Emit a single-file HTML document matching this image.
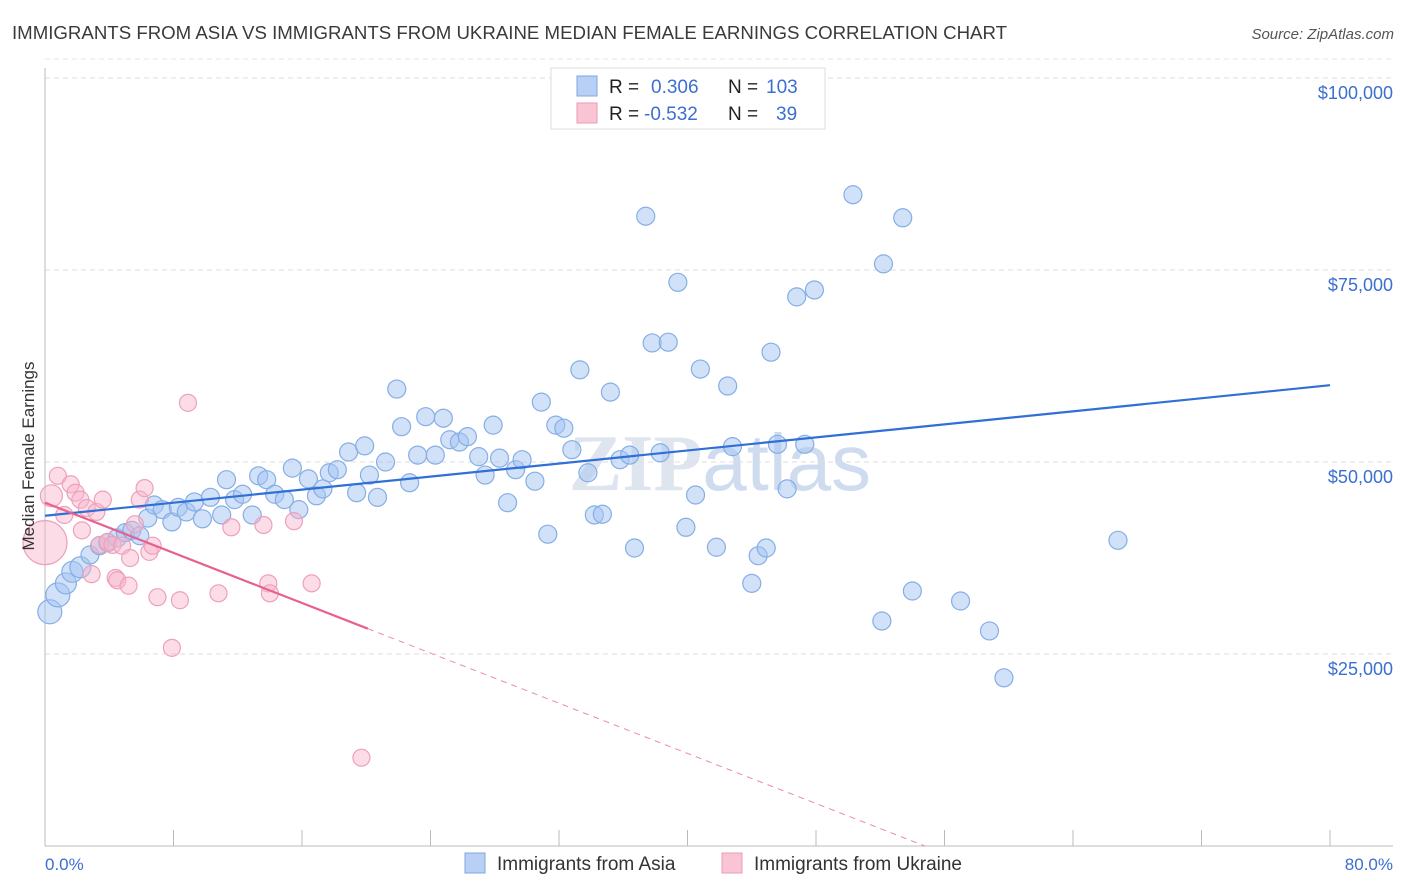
<!DOCTYPE html>
<html><head><meta charset="utf-8"><style>
body{margin:0;background:#fff;font-family:"Liberation Sans",sans-serif;}
svg{display:block}
</style></head><body>
<svg id="chart" width="1406" height="892" xmlns="http://www.w3.org/2000/svg">
<text x="12" y="39" font-size="18" fill="#3a3a3a" textLength="995" lengthAdjust="spacingAndGlyphs">IMMIGRANTS FROM ASIA VS IMMIGRANTS FROM UKRAINE MEDIAN FEMALE EARNINGS CORRELATION CHART</text>
<text x="1394" y="39" font-size="15" fill="#555" font-style="italic" text-anchor="end">Source: ZipAtlas.com</text>
<text x="720" y="490" font-size="80" fill="#dfe5ee" text-anchor="middle" font-weight="bold" font-family="Liberation Serif,serif">ZIP<tspan fill="#cfdcf0" font-family="Liberation Sans,sans-serif" font-weight="normal">atlas</tspan></text>
<g id="grid"></g>
<g id="axes"></g>
<g id="pts"></g>
<g id="trends"></g>
<text transform="translate(34,456) rotate(-90)" font-size="17" fill="#333" text-anchor="middle">Median Female Earnings</text>
<text x="45" y="870" font-size="17" fill="#3b6fd0">0.0%</text>
<text x="1393" y="870" font-size="17" fill="#3b6fd0" text-anchor="end">80.0%</text>
<g>
<rect x="551" y="68" width="274" height="61" fill="#fff" stroke="#ddd"/>
<rect x="577" y="76" width="20" height="20" fill="#b8d0f5" stroke="#7fa5e0"/>
<rect x="577" y="103" width="20" height="20" fill="#f9c5d5" stroke="#eb9ab4"/>
<text x="609" y="93" font-size="19" fill="#222">R = <tspan x="651" fill="#3b6fd0">0.306</tspan><tspan x="728">N = </tspan><tspan x="766" fill="#3b6fd0">103</tspan></text>
<text x="609" y="120" font-size="19" fill="#222">R = <tspan x="644" fill="#3b6fd0">-0.532</tspan><tspan x="728">N = </tspan><tspan x="776" fill="#3b6fd0">39</tspan></text>
</g>
<g>
<rect x="465" y="853" width="20" height="20" fill="#b8d0f5" stroke="#7fa5e0"/>
<text x="497" y="870" font-size="19" fill="#333">Immigrants from Asia</text>
<rect x="722" y="853" width="20" height="20" fill="#f9c5d5" stroke="#eb9ab4"/>
<text x="754" y="870" font-size="19" fill="#333">Immigrants from Ukraine</text>
</g>
</svg>
<script>
const yTicks=[25000,50000,75000,100000];
const yTickLabels=["$25,000","$50,000","$75,000","$100,000"];
const xTicks=[0,8,16,24,32,40,48,56,64,72,80];
const asiaX=[0.3,0.8,1.3,1.7,2.2,2.8,3.4,3.9,4.5,5.0,5.4,5.9,6.4,6.8,7.3,7.9,8.3,8.8,9.3,9.8,10.3,11.0,11.3,11.8,12.3,12.9,13.3,13.8,14.3,14.9,15.4,15.8,16.4,16.9,17.3,17.7,18.2,18.9,19.4,19.9,20.2,20.7,21.2,21.9,22.2,22.7,23.2,23.7,24.3,24.8,25.2,25.8,26.3,27.0,27.4,27.9,28.3,28.8,29.3,29.7,30.5,30.9,31.3,31.8,32.3,32.8,33.3,33.8,34.2,34.7,35.2,35.8,36.4,36.7,37.4,37.8,38.3,38.8,39.4,39.9,40.5,40.8,41.8,42.5,42.8,44.0,44.4,44.9,45.2,45.6,46.2,46.8,47.3,47.9,50.3,52.1,52.2,53.4,54.0,57.0,58.8,59.7,66.8];
const asiaY=[30.5,32.7,34.2,35.7,36.3,37.9,39.1,39.5,40.1,40.8,41.1,40.4,42.7,44.4,43.8,42.2,44.1,43.5,44.8,42.6,45.4,43.1,47.7,45.1,45.8,43.1,48.2,47.7,45.8,45.1,49.2,43.8,47.8,45.6,46.5,48.6,49.0,51.3,46.0,52.1,48.3,45.4,50.0,59.5,54.6,47.3,50.9,55.9,50.9,55.7,52.9,52.6,53.3,50.7,48.3,54.8,50.5,44.7,49.0,50.3,47.5,57.8,40.6,54.8,54.4,51.6,62.0,48.6,43.1,43.2,59.1,50.3,50.9,38.8,82.0,65.5,51.2,65.6,73.4,41.5,45.7,62.1,38.9,59.9,52.0,34.2,37.8,38.8,64.3,52.3,46.5,71.5,52.3,72.4,84.8,29.3,75.8,81.8,33.2,31.9,28.0,21.9,39.8];
const ukrX=[0.0,0.4,0.8,1.2,1.6,1.9,2.2,2.3,2.6,2.9,3.2,3.4,3.6,3.9,4.2,4.4,4.5,4.8,5.2,5.3,5.6,5.9,6.2,6.5,6.7,7.0,7.9,8.4,8.9,10.8,11.6,13.6,13.9,14.0,15.5,16.6,19.7];
const ukrY=[39.5,45.6,48.2,43.1,47.1,46.0,45.1,41.1,44.0,35.4,43.5,39.2,45.1,39.6,39.2,34.9,34.6,39.1,33.9,37.5,41.9,45.1,46.6,38.3,39.1,32.4,25.8,32.0,57.7,32.9,41.5,41.8,34.2,32.9,42.3,34.2,11.5];
const asiaTrend=[43.0,60.0];
const ukrTrend=[44.7,-0.816];
const X0=45,X1=1330,Y0=846,YPX=7.68;
const sx=v=>X0+(X1-X0)*v/80;
const sy=v=>Y0-v*YPX;
const NS="http://www.w3.org/2000/svg";
function mk(t,a,p){const e=document.createElementNS(NS,t);for(const k in a)e.setAttribute(k,a[k]);p.appendChild(e);return e;}
const grid=document.getElementById('grid'),axes=document.getElementById('axes'),pts=document.getElementById('pts'),tr=document.getElementById('trends');
yTicks.forEach((v,i)=>{
 const l=mk('line',{x1:X0,x2:1393,y1:sy(v/1000),y2:sy(v/1000),stroke:'#ddd','stroke-dasharray':'5,4'},grid);
 
 
 const t=mk('text',{x:1393,y:sy(v/1000)+21,'font-size':18,fill:'#3b6fd0','text-anchor':'end'},grid);
 t.textContent=yTickLabels[i];
 
 
});
const topLine=mk('line',{x1:X0,x2:1393,y1:sy(100)-19,y2:sy(100)-19,stroke:'#e5e5e5','stroke-dasharray':'5,4'},grid);


const ya=mk('line',{x1:X0,x2:X0,y1:68,y2:846,stroke:'#bbb'},axes);


const xa=mk('line',{x1:X0,x2:1393,y1:846,y2:846,stroke:'#bbb'},axes);


xTicks.forEach(v=>{
 const l=mk('line',{x1:sx(v),x2:sx(v),y1:830,y2:846,stroke:'#bbb'},axes);
 
 
});
asiaX.forEach((x,i)=>{
 const r=i<2?12:(i<5?10.5:9);
 const c=mk('circle',{cx:sx(x),cy:sy(asiaY[i]),r:r,fill:'rgba(164,196,242,0.5)',stroke:'#86aee6','stroke-width':1.2},pts);
 
 
});
ukrX.forEach((x,i)=>{
 const r=i==0?22:(i==1?11:8.5);
 const c=mk('circle',{cx:sx(x),cy:sy(ukrY[i]),r:r,fill:'rgba(248,180,202,0.45)',stroke:'#eea0ba','stroke-width':1.2},pts);
 
 
});
const bl=mk('line',{x1:sx(0),y1:sy(asiaTrend[0]),x2:sx(80),y2:sy(asiaTrend[1]),stroke:'#2f6fd6','stroke-width':2.2},tr);


const xe=20.1, xz=-ukrTrend[0]/ukrTrend[1];
const pl=mk('line',{x1:sx(0),y1:sy(ukrTrend[0]),x2:sx(xe),y2:sy(ukrTrend[0]+ukrTrend[1]*xe),stroke:'#e8608f','stroke-width':2.2},tr);


const pd=mk('line',{x1:sx(xe),y1:sy(ukrTrend[0]+ukrTrend[1]*xe),x2:sx(xz),y2:sy(0),stroke:'#eb8aab','stroke-width':1,'stroke-dasharray':'6,5'},tr);


</script>
</body></html>
